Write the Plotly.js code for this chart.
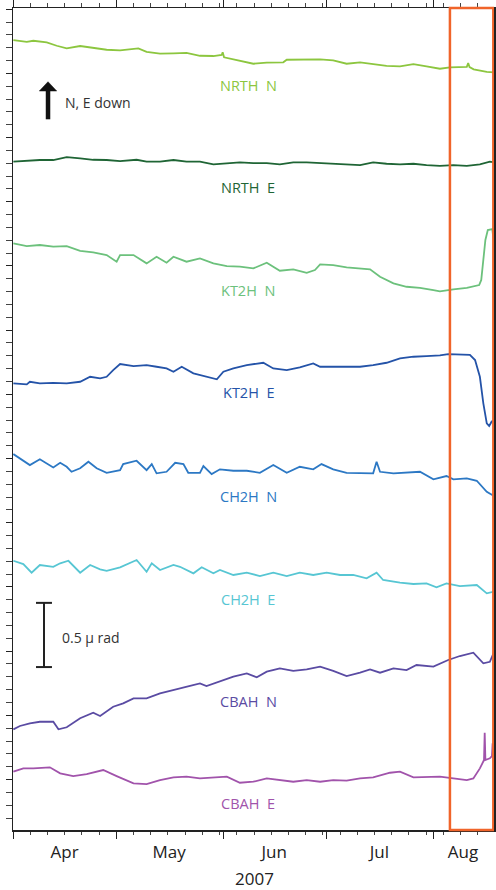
<!DOCTYPE html>
<html>
<head>
<meta charset="utf-8">
<script src="https://cdn.plot.ly/plotly-3.0.1.min.js"></script>
<style>html,body{margin:0;padding:0;background:#fff;}#chart{width:496px;height:890px;}</style>
</head>
<body>
<div id="chart"></div>
<script>
// Days after 2007-04-01 and tilt values (micro-radian, stacked offsets as plotted)
const nrthN_day = [0.1,4.0,5.9,9.8,12.7,15.6,19.5,23.3,27.2,31.1,36.4,38.8,42.7,46.6,50.4,54.3,58.2,60.6,60.9,61.3,64.0,65.9,69.8,73.7,78.5,79.5,83.3,89.2,93.0,96.9,100.8,104.6,108.5,112.4,116.3,120.1,124.0,126.9,131.8,132.2,132.6,133.8,137.6,139.7];
const nrthN_val = [5.759,5.746,5.754,5.741,5.715,5.695,5.713,5.699,5.684,5.679,5.695,5.668,5.653,5.656,5.660,5.637,5.635,5.643,5.664,5.625,5.611,5.596,5.575,5.583,5.586,5.606,5.609,5.609,5.601,5.575,5.586,5.570,5.559,5.555,5.572,5.555,5.536,5.547,5.551,5.580,5.549,5.531,5.512,5.508];

const nrthE_day = [0.1,4.0,7.8,11.7,15.6,19.5,23.3,27.2,31.1,35.9,38.8,42.7,46.6,50.4,54.3,58.2,62.1,65.9,69.8,73.7,77.5,81.4,85.3,89.2,93.0,96.9,100.8,104.6,108.5,112.4,116.3,120.1,124.0,127.9,131.8,135.6,138.5,139.7];
const nrthE_val = [4.812,4.819,4.825,4.825,4.848,4.838,4.827,4.825,4.817,4.827,4.812,4.812,4.825,4.812,4.812,4.791,4.801,4.807,4.801,4.801,4.791,4.807,4.807,4.801,4.801,4.791,4.786,4.807,4.796,4.791,4.796,4.786,4.780,4.786,4.780,4.791,4.812,4.807];

const kt2hN_day = [0.1,4.0,7.8,11.7,15.6,19.5,23.3,27.2,30.1,31.1,35.0,38.8,41.7,44.6,46.6,50.4,54.3,58.2,62.1,65.9,69.8,73.7,77.5,81.4,85.3,87.7,89.2,93.0,96.9,100.8,103.7,106.6,110.5,114.3,118.2,122.1,124.0,127.9,131.8,135.4,136.0,136.6,137.2,137.9,139.2,139.7];
const kt2hN_val = [4.176,4.155,4.163,4.150,4.155,4.118,4.106,4.085,4.033,4.085,4.085,4.020,4.072,4.025,4.072,4.033,4.059,4.020,3.999,3.994,3.981,4.025,3.963,3.974,3.947,3.968,4.012,4.007,3.989,3.981,3.974,3.916,3.864,3.838,3.830,3.812,3.802,3.818,3.830,3.851,3.891,4.047,4.202,4.280,4.287,4.176];

const kt2hE_day = [0.1,4.0,4.9,7.8,11.7,15.6,19.5,22.4,25.3,27.2,29.1,31.1,35.0,38.8,41.7,44.6,46.6,49.0,52.4,56.2,59.2,61.1,64.0,67.9,72.7,75.6,79.5,83.3,87.2,89.2,93.0,96.9,100.8,104.6,108.5,112.4,116.3,120.1,124.0,126.4,129.8,132.7,134.2,135.6,136.6,137.6,138.3,139.0,139.7];
const kt2hE_val = [3.086,3.078,3.098,3.086,3.090,3.086,3.098,3.137,3.125,3.137,3.189,3.236,3.220,3.228,3.215,3.202,3.176,3.215,3.164,3.137,3.117,3.176,3.202,3.228,3.246,3.202,3.189,3.210,3.241,3.215,3.215,3.215,3.215,3.228,3.246,3.280,3.293,3.298,3.304,3.314,3.308,3.308,3.267,3.137,2.930,2.774,2.753,2.787,2.800];

const ch2hN_day = [0.1,2.0,4.9,7.8,11.7,13.7,15.6,17.0,19.5,21.9,24.3,27.2,31.1,32.0,35.9,38.8,40.3,41.7,44.6,47.1,49.5,50.9,54.3,55.3,57.7,60.1,64.0,67.9,71.7,75.6,79.5,83.3,87.2,89.6,93.0,96.9,100.8,104.6,105.6,106.6,110.5,114.3,118.2,122.1,125.9,127.9,131.8,134.7,137.6,139.7];
const ch2hN_val = [2.535,2.502,2.449,2.494,2.431,2.467,2.436,2.397,2.424,2.475,2.424,2.389,2.410,2.457,2.483,2.410,2.457,2.385,2.397,2.467,2.457,2.389,2.389,2.442,2.379,2.416,2.405,2.405,2.389,2.449,2.389,2.436,2.416,2.457,2.416,2.389,2.389,2.385,2.475,2.397,2.385,2.389,2.397,2.338,2.364,2.338,2.346,2.327,2.241,2.208];

const ch2hE_day = [0.1,3.0,5.4,7.8,11.7,13.7,16.1,19.5,22.4,25.3,27.2,31.1,35.9,38.8,40.3,42.7,46.6,48.5,52.4,54.8,58.2,60.1,64.0,67.9,71.7,75.6,79.5,83.3,87.2,91.1,95.0,98.8,102.7,105.6,107.5,112.4,116.3,120.1,123.0,125.9,129.8,134.7,137.6,139.7];
const ch2hE_val = [1.704,1.678,1.611,1.671,1.657,1.684,1.704,1.611,1.671,1.637,1.626,1.653,1.710,1.618,1.684,1.632,1.671,1.657,1.606,1.653,1.606,1.632,1.593,1.611,1.585,1.611,1.585,1.611,1.593,1.611,1.593,1.593,1.567,1.611,1.554,1.533,1.523,1.528,1.497,1.528,1.507,1.515,1.450,1.463];

const cbahN_day = [0.1,2.0,4.9,7.8,11.7,13.2,15.6,19.5,23.3,25.3,29.1,32.0,35.0,38.8,42.7,46.6,50.4,54.3,56.2,60.1,64.0,67.9,70.8,73.7,77.5,81.4,85.3,89.2,93.0,96.9,100.8,103.7,106.6,110.5,114.3,117.2,122.1,126.4,129.8,133.7,136.6,138.5,139.7];
const cbahN_val = [0.391,0.417,0.438,0.450,0.450,0.391,0.407,0.477,0.520,0.495,0.567,0.593,0.632,0.632,0.671,0.697,0.723,0.749,0.728,0.762,0.801,0.827,0.796,0.840,0.866,0.847,0.858,0.879,0.847,0.806,0.832,0.858,0.832,0.866,0.853,0.892,0.879,0.931,0.962,0.988,0.905,0.917,0.993];

const cbahE_day = [0.1,3.0,5.9,10.7,13.7,17.5,21.4,26.2,30.1,35.0,38.8,42.7,46.6,50.4,54.3,58.2,62.1,65.9,69.8,73.7,77.5,81.4,85.3,89.2,93.0,96.9,100.8,104.6,109.5,112.4,116.3,120.1,124.0,127.9,131.8,133.7,135.6,136.8,137.0,137.2,138.5,139.1,139.3,139.5,139.7];
const cbahE_val = [0.061,0.087,0.087,0.095,0.048,0.027,0.043,0.074,0.027,-0.030,-0.035,-0.004,0.017,0.022,0.009,0.017,0.022,-0.025,-0.017,0.009,-0.004,-0.017,-0.004,-0.017,-0.004,-0.009,0.009,0.017,0.053,0.061,0.017,0.017,0.022,0.009,-0.004,0.009,0.087,0.152,0.364,0.152,0.165,0.183,0.282,0.214,0.245];

const seriesNames = ['NRTH N','NRTH E','KT2H N','KT2H E','CH2H N','CH2H E','CBAH N','CBAH E'];
const seriesDays = [nrthN_day,nrthE_day,kt2hN_day,kt2hE_day,ch2hN_day,ch2hE_day,cbahN_day,cbahE_day];
const seriesVals = [nrthN_val,nrthE_val,kt2hN_val,kt2hE_val,ch2hN_val,ch2hE_val,cbahN_val,cbahE_val];
const monthStarts = ['2007-04-01','2007-05-01','2007-06-01','2007-07-01','2007-08-01'];
const monthLabels = ['Apr','May','Jun','Jul','Aug'];
const monthLabelDates = ['2007-04-16','2007-05-16 08:00','2007-06-15 20:00','2007-07-16 10:00','2007-08-09 17:00'];
const yearLabel = '2007';
const scaleBarValue = 0.5; // micro-radian
const highlightStartDay = 126.9;
const endDay = 139.7;

// styles
const colors = ['#8cc63f','#1f6535','#6cc17c','#2453a8','#2c78c4','#57c6d3','#5a4ba3','#a153ab'];
const labelY = [0.9063,0.7822,0.6569,0.5320,0.4063,0.2810,0.1569,0.0325];

const DAY = 86400000;
const base = Date.UTC(2007,3,1);
const toMs = d => base + d*DAY;

const traces = seriesNames.map((n,i)=>({
  type:'scatter', mode:'lines', name:n,
  x: seriesDays[i].map(toMs), y: seriesVals[i],
  line:{color:colors[i], width:1.8}, hoverinfo:'skip'
}));
// carrier trace for the label axis
traces.push({type:'scatter', mode:'lines', x:[toMs(0), toMs(endDay)], y:[null,null], xaxis:'x2', yaxis:'y', hoverinfo:'skip', showlegend:false});

const FONT = 'Open Sans, Noto Sans, DejaVu Sans, sans-serif';
const annotations = seriesNames.map((n,i)=>({
  xref:'paper', yref:'paper', x:0.4886, y:labelY[i], text:n.replace(' ','&nbsp;&nbsp;'),
  showarrow:false, xanchor:'center', yanchor:'middle',
  font:{family:FONT, size:14.5, color:colors[i]}
}));
annotations.push({xref:'paper',yref:'paper',x:0.104,y:0.8856,text:'N, E down',showarrow:false,xanchor:'left',yanchor:'middle',font:{family:FONT,size:14,color:'#333'}});
annotations.push({xref:'paper',yref:'paper',x:0.0977,y:0.2336,text:'0.5 μ rad',showarrow:false,xanchor:'left',yanchor:'middle',font:{family:FONT,size:14,color:'#333'}});
annotations.push({xref:'paper',yref:'paper',x:0.503,y:-0.0584,text:yearLabel,showarrow:false,xanchor:'center',yanchor:'middle',font:{family:FONT,size:17,color:'#222'}});

const sbBottom = 0.876;
const shapes = [
  {type:'rect', xref:'x', yref:'paper', x0:toMs(highlightStartDay), x1:toMs(endDay-0.2), y0:0, y1:1, line:{color:'#f0642a', width:2.5}, fillcolor:'rgba(0,0,0,0)'},
  {type:'line', xref:'paper', yref:'y', x0:0.0644, x1:0.0644, y0:sbBottom, y1:sbBottom+scaleBarValue, line:{color:'#222', width:2}},
  {type:'line', xref:'paper', yref:'y', x0:0.0478, x1:0.081, y0:sbBottom, y1:sbBottom, line:{color:'#222', width:2}},
  {type:'line', xref:'paper', yref:'y', x0:0.0478, x1:0.081, y0:sbBottom+scaleBarValue, y1:sbBottom+scaleBarValue, line:{color:'#222', width:2}},
  {type:'line', xref:'paper', yref:'paper', x0:0.0728, x1:0.0728, y0:0.8646, y1:0.9, line:{color:'#111', width:4.5}},
  {type:'path', xref:'paper', yref:'paper', path:'M 0.0547 0.899 L 0.0728 0.9103 L 0.0909 0.899 Z', fillcolor:'#111', line:{color:'#111', width:0.5}}
];

const layout = {
  width:496, height:890,
  margin:{l:13, r:2, t:8, b:60, pad:0},
  paper_bgcolor:'#fff', plot_bgcolor:'#fff',
  showlegend:false,
  font:{family:FONT, color:'#222'},
  xaxis:{
    type:'date', range:[toMs(0), toMs(endDay)],
    tickmode:'array', tickvals:monthStarts, showticklabels:false,
    ticks:'outside', ticklen:7, tickwidth:1, tickcolor:'#222',
    minor:{dtick:5*DAY, tick0:'2007-04-01', ticks:'outside', ticklen:3.5, tickwidth:1, tickcolor:'#444'},
    showline:true, linecolor:'#222', linewidth:1.5, mirror:'allticks',
    showgrid:false, zeroline:false, automargin:false
  },
  xaxis2:{
    type:'date', overlaying:'x', anchor:'y', side:'bottom', range:[toMs(0), toMs(endDay)],
    tickmode:'array', tickvals:monthLabelDates, ticktext:monthLabels,
    ticks:'outside', ticklen:7, tickcolor:'rgba(0,0,0,0)',
    showline:false, showgrid:false, zeroline:false, automargin:false,
    tickfont:{family:FONT, size:17, color:'#222'}
  },
  yaxis:{
    range:[-0.393, 6.009], tick0:0, dtick:0.5,
    ticks:'outside', ticklen:6, tickwidth:1, tickcolor:'#222',
    minor:{dtick:0.1, ticks:'outside', ticklen:3.5, tickwidth:1, tickcolor:'#444'},
    showticklabels:false, showline:true, linecolor:'#222', linewidth:1.5, mirror:'allticks',
    showgrid:false, zeroline:false, automargin:false
  },
  annotations:annotations, shapes:shapes
};

Plotly.newPlot('chart', traces, layout, {staticPlot:true, displayModeBar:false});
</script>
</body>
</html>
